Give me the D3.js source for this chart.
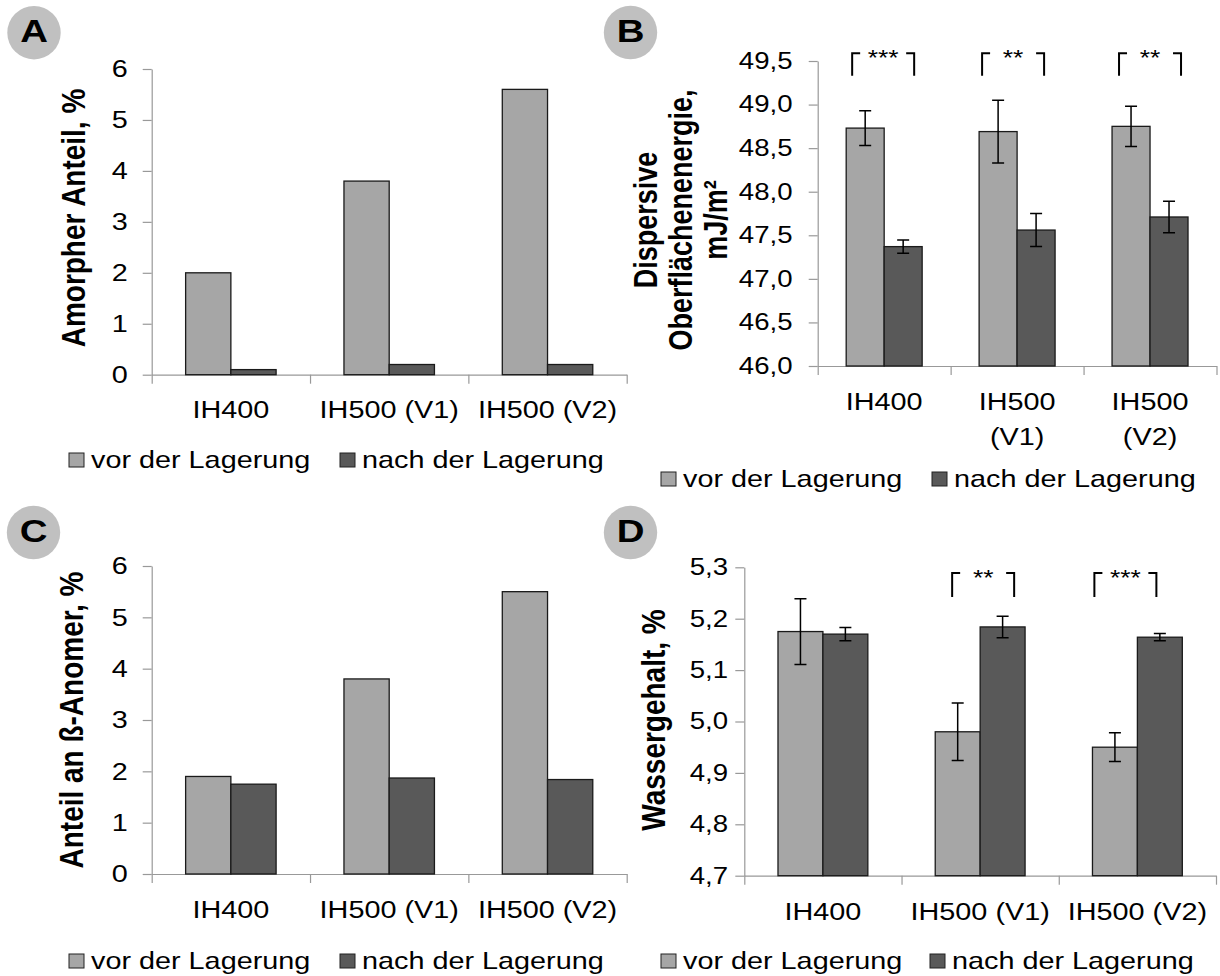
<!DOCTYPE html>
<html><head><meta charset="utf-8">
<script src="https://cdn.jsdelivr.net/npm/d3@7"></script>
<style>
body{margin:0;background:#fff;}
svg{display:block;font-family:"Liberation Sans",Arial,sans-serif;}
</style></head><body>
<svg id="chart" width="1220" height="976"></svg>
<script>
// ---------------- data ----------------
const categories = ["IH400", "IH500 (V1)", "IH500 (V2)"];
const categoriesTwoLine = [["IH400"], ["IH500", "(V1)"], ["IH500", "(V2)"]];
const seriesNames = ["vor der Lagerung", "nach der Lagerung"];

const amorphVor = [2.0, 3.8, 5.6];
const amorphNach = [0.1, 0.2, 0.2];
const amorphTicks = [0, 1, 2, 3, 4, 5, 6];

const energyVor = [48.73, 48.69, 48.75];
const energyVorErr = [0.20, 0.36, 0.23];
const energyNach = [47.37, 47.56, 47.71];
const energyNachErr = [0.075, 0.19, 0.18];
const energyTicks = [46.0, 46.5, 47.0, 47.5, 48.0, 48.5, 49.0, 49.5];
const energySig = [
  { cat: "IH400", stars: "***", top: 49.59, bottom: 49.33 },
  { cat: "IH500 (V1)", stars: "**", top: 49.59, bottom: 49.33 },
  { cat: "IH500 (V2)", stars: "**", top: 49.59, bottom: 49.33 }
];

const anomerVor = [1.9, 3.8, 5.5];
const anomerNach = [1.75, 1.87, 1.84];
const anomerTicks = [0, 1, 2, 3, 4, 5, 6];

const waterVor = [5.175, 4.98, 4.95];
const waterVorErr = [0.064, 0.056, 0.028];
const waterNach = [5.17, 5.184, 5.164];
const waterNachErr = [0.013, 0.021, 0.007];
const waterTicks = [4.7, 4.8, 4.9, 5.0, 5.1, 5.2, 5.3];
const waterSig = [
  { cat: "IH500 (V1)", stars: "**", top: 5.289, bottom: 5.242 },
  { cat: "IH500 (V2)", stars: "***", top: 5.289, bottom: 5.242 }
];

// ---------------- style ----------------
const SX = 1.2;                 // horizontal text stretch seen in the reference
const FONT = '"Liberation Sans", Arial, sans-serif';
const COLORS = ["#a6a6a6", "#595959"];
const AXIS = "#999999";
const comma1 = d => d3.format(".1f")(d).replace(".", ",");

const svg = d3.select("#chart");

function stext(g, x, y, s, o = {}) {
  let tr = `translate(${x},${y}) scale(${SX},1)`;
  if (o.rotate) tr += " rotate(-90)";
  return g.append("text").attr("transform", tr)
    .attr("text-anchor", o.anchor || "start")
    .style("font-family", FONT)
    .style("font-size", (o.size || 24) + "px")
    .style("font-weight", o.bold ? "bold" : "normal")
    .attr("fill", o.fill || "#000")
    .text(s);
}

function drawPanel(c) {
  const g = svg.append("g");
  const y = d3.scaleLinear().domain(c.domain).range([c.yBot, c.yTop]);
  const xb = d3.scaleBand().domain(categories).range([c.x0, c.x1])
    .paddingInner(3 / 7).paddingOuter(1.5 / 7);
  const xs = d3.scaleBand().domain(seriesNames).range([0, xb.bandwidth()]);
  const xEdge = d3.scaleLinear().domain([0, categories.length]).range([c.x0, c.x1]);

  // badge
  g.append("circle").attr("cx", c.badge[0]).attr("cy", c.badge[1]).attr("r", 26.7).attr("fill", "#c0c0c0");
  stext(g, c.badge[0], c.badge[1] + 9.5, c.letter, { anchor: "middle", bold: true, size: 32 });

  // y axis
  const ya = g.append("g").attr("transform", `translate(${c.x0},0)`)
    .call(d3.axisLeft(y).tickValues(c.ticks).tickFormat(c.fmt).tickSize(9).tickSizeOuter(0).tickPadding(c.pad));
  ya.attr("font-family", null).attr("font-size", null);
  ya.select(".domain").attr("stroke", AXIS).attr("stroke-width", 1.2);
  ya.selectAll(".tick line").attr("stroke", AXIS).attr("stroke-width", 1.2);
  ya.selectAll(".tick text").attr("transform", `scale(${SX},1)`)
    .style("font-family", FONT).style("font-size", c.tickFont + "px").attr("fill", "#000");

  // x axis (ticks at category boundaries)
  const xa = g.append("g").attr("transform", `translate(0,${c.yBot})`)
    .call(d3.axisBottom(xEdge).tickValues(d3.range(categories.length + 1)).tickFormat("").tickSize(9).tickSizeOuter(0));
  xa.select(".domain").attr("stroke", AXIS).attr("stroke-width", 1.2);
  xa.selectAll(".tick line").attr("stroke", AXIS).attr("stroke-width", 1.2);

  // bars
  const series = [c.vor, c.nach];
  const errs = [c.vorErr, c.nachErr];
  series.forEach((vals, j) => {
    g.append("g").selectAll("rect").data(categories).join("rect")
      .attr("x", d => xb(d) + xs(seriesNames[j]))
      .attr("y", (d, i) => y(vals[i]))
      .attr("width", xs.bandwidth())
      .attr("height", (d, i) => y(c.domain[0]) - y(vals[i]))
      .attr("fill", COLORS[j]).attr("stroke", "#1a1a1a").attr("stroke-width", 1.3);
  });

  // error bars
  series.forEach((vals, j) => {
    if (!errs[j]) return;
    const eg = g.append("g").attr("stroke", "#000").attr("stroke-width", 1.5).attr("fill", "none");
    categories.forEach((cat, i) => {
      const cx = xb(cat) + xs(seriesNames[j]) + xs.bandwidth() / 2;
      const lo = y(vals[i] - errs[j][i]), hi = y(vals[i] + errs[j][i]);
      eg.append("path").attr("d", `M${cx},${lo}V${hi}M${cx - 6},${hi}H${cx + 6}M${cx - 6},${lo}H${cx + 6}`);
    });
  });

  // significance brackets
  (c.sig || []).forEach((s, k) => {
    const cx = xb(s.cat) + xb.bandwidth() / 2 + (c.sigShift ? c.sigShift[k] : 0);
    const xl = cx - 31, xr = cx + 31, yt = y(s.top), yb = y(s.bottom);
    g.append("path")
      .attr("d", `M${xl},${yb}V${yt}H${xl + 8}M${xr - 8},${yt}H${xr}V${yb}`)
      .attr("fill", "none").attr("stroke", "#000").attr("stroke-width", 2);
    stext(g, cx, yt + 12, s.stars, { anchor: "middle", size: 22 });
  });

  // category labels
  categories.forEach((cat, i) => {
    const lines = c.catLines[i];
    lines.forEach((ln, k) => {
      stext(g, xb(cat) + xb.bandwidth() / 2, c.catY + k * c.catLineH, ln, { anchor: "middle", size: c.catFont });
    });
  });

  // y title
  c.title.forEach((t, k) => {
    stext(g, c.titleX[k], c.titleY, t, { rotate: true, anchor: "middle", bold: true, size: c.titleFont });
  });

  // legend
  seriesNames.forEach((s, j) => {
    g.append("rect").attr("x", c.legX[j]).attr("y", c.legY - 15).attr("width", 15).attr("height", 14)
      .attr("fill", COLORS[j]).attr("stroke", "#222").attr("stroke-width", 1);
    stext(g, c.legX[j] + 22, c.legY, s, { size: 24 });
  });
}

drawPanel({
  letter: "A", badge: [34, 32.7],
  x0: 151.7, x1: 626.7, yTop: 69, yBot: 374.7, domain: [0, 6], ticks: amorphTicks, fmt: d3.format("d"),
  pad: 11, tickFont: 24,
  vor: amorphVor, nach: amorphNach,
  catLines: categories.map(d => [d]), catY: 418, catLineH: 0, catFont: 24,
  title: ["Amorpher Anteil, %"], titleX: [85], titleY: 218, titleFont: 28,
  legX: [69, 340], legY: 468
});

drawPanel({
  letter: "B", badge: [630.5, 32.5],
  x0: 817.7, x1: 1216.5, yTop: 61, yBot: 366, domain: [46, 49.5], ticks: energyTicks, fmt: comma1,
  pad: 12, tickFont: 23,
  vor: energyVor, nach: energyNach, vorErr: energyVorErr, nachErr: energyNachErr,
  sig: energySig, sigShift: [-1, -4, 0],
  catLines: categoriesTwoLine, catY: 410, catLineH: 35, catFont: 24,
  title: ["Dispersive", "Oberflächenenergie,", "mJ/m²"], titleX: [657, 692, 727], titleY: 220, titleFont: 27,
  legX: [661, 932], legY: 487
});

drawPanel({
  letter: "C", badge: [33.5, 532.5],
  x0: 151.7, x1: 626.7, yTop: 566, yBot: 874, domain: [0, 6], ticks: anomerTicks, fmt: d3.format("d"),
  pad: 11, tickFont: 24,
  vor: anomerVor, nach: anomerNach,
  catLines: categories.map(d => [d]), catY: 918, catLineH: 0, catFont: 24,
  title: ["Anteil an ß-Anomer, %"], titleX: [83], titleY: 720, titleFont: 28,
  legX: [69, 340], legY: 969
});

drawPanel({
  letter: "D", badge: [630.5, 532.5],
  x0: 744.3, x1: 1216, yTop: 567.3, yBot: 875.7, domain: [4.7, 5.3], ticks: waterTicks, fmt: comma1,
  pad: 4.5, tickFont: 23,
  vor: waterVor, nach: waterNach, vorErr: waterVorErr, nachErr: waterNachErr,
  sig: waterSig, sigShift: [3, -12],
  catLines: categories.map(d => [d]), catY: 920, catLineH: 0, catFont: 24,
  title: ["Wassergehalt, %"], titleX: [665], titleY: 720, titleFont: 28,
  legX: [661, 930], legY: 969
});
</script></body></html>
